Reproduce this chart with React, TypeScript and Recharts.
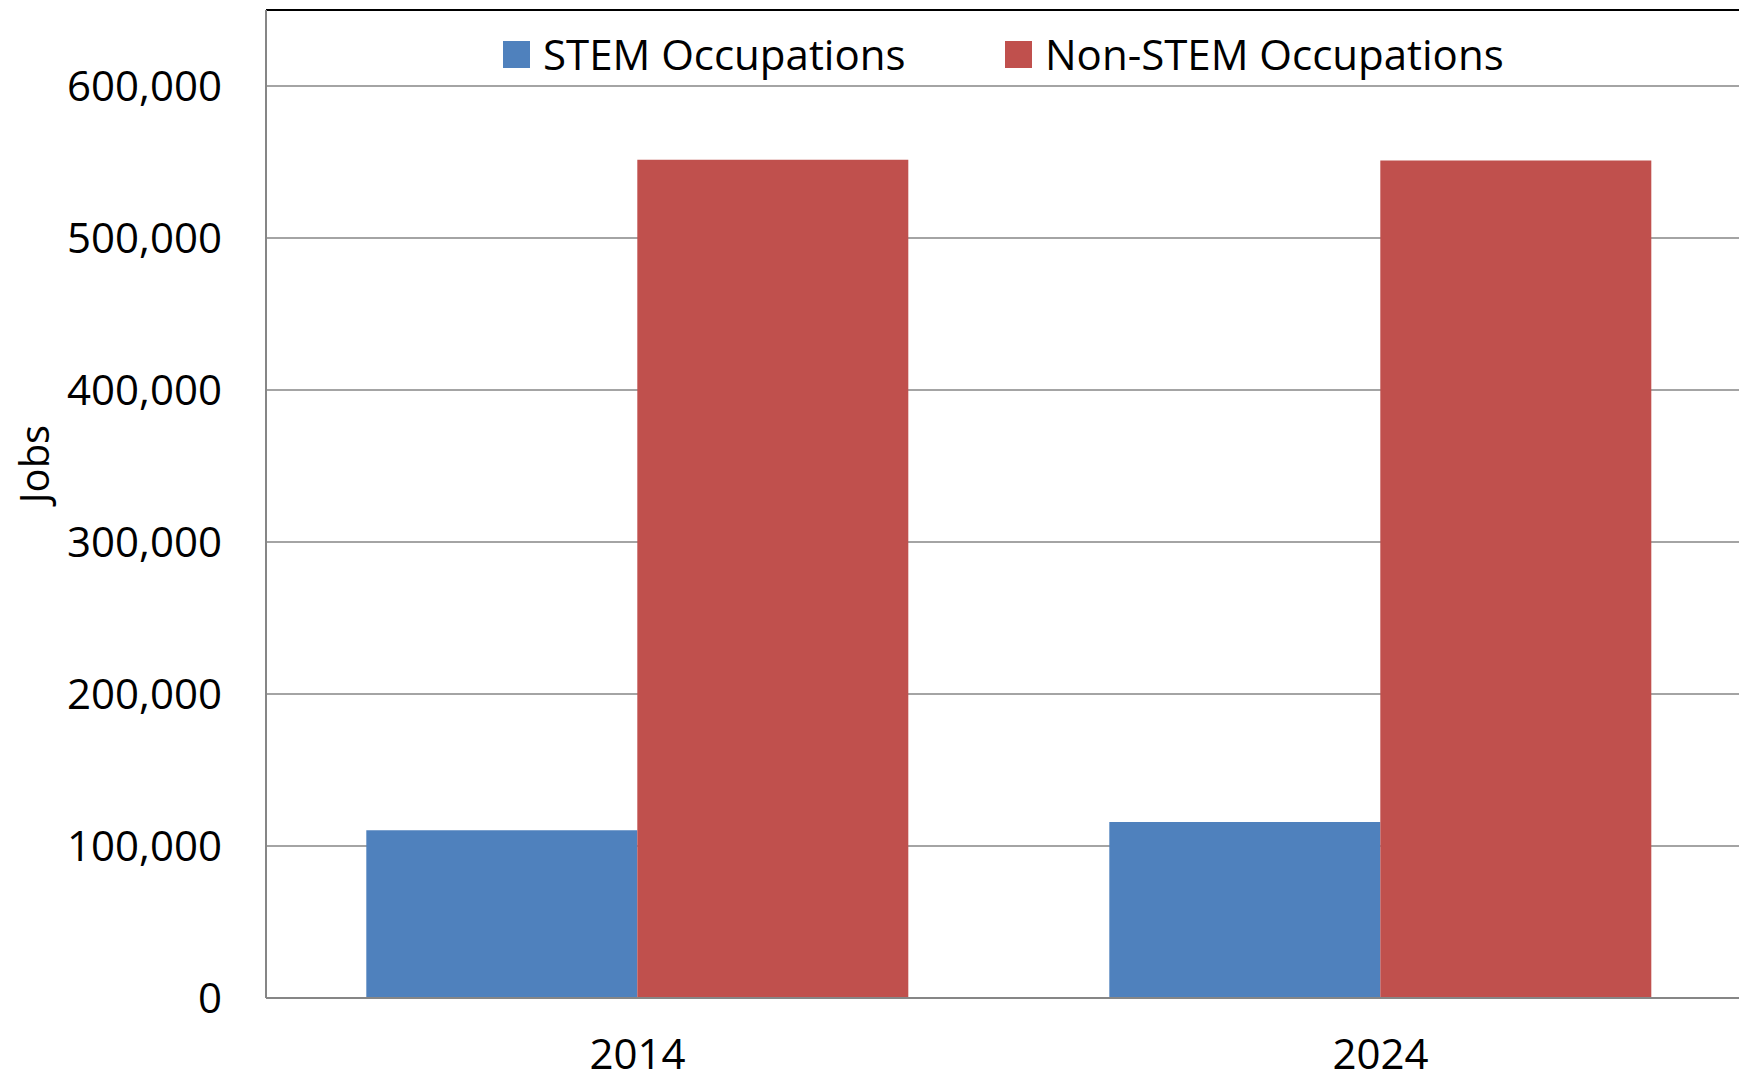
import {
  BarChart,
  Bar,
  XAxis,
  YAxis,
  CartesianGrid,
  Legend,
  ReferenceLine,
} from "recharts";

const YEARS = ["2014", "2024"];
const STEM_JOBS = [110300, 115800];
const NON_STEM_JOBS = [551500, 551000];
const Y_TICKS = [0, 100000, 200000, 300000, 400000, 500000, 600000];

const STEM_COLOR = "#4F81BD";
const NON_STEM_COLOR = "#C0504D";
const GRID_COLOR = "#868686";
const FONT = "'Open Sans', sans-serif";

const data = YEARS.map((year, i) => ({
  year,
  stem: STEM_JOBS[i],
  nonStem: NON_STEM_JOBS[i],
}));

function formatTick(v: number): string {
  return v.toLocaleString("en-US");
}

function LegendContent() {
  const items = [
    { name: "STEM Occupations", color: STEM_COLOR, width: 502 },
    { name: "Non-STEM Occupations", color: NON_STEM_COLOR, width: 520 },
  ];
  return (
    <div style={{ display: "flex", fontFamily: FONT, fontSize: 42, color: "#000" }}>
      {items.map((it) => (
        <div
          key={it.name}
          style={{ display: "flex", alignItems: "center", width: it.width }}
        >
          <span
            style={{
              display: "inline-block",
              width: 27,
              height: 27,
              background: it.color,
              marginRight: 13,
            }}
          />
          <span style={{ lineHeight: "48px", whiteSpace: "nowrap" }}>{it.name}</span>
        </div>
      ))}
    </div>
  );
}

function JobsLabel(props: any) {
  const vb = props.viewBox || {};
  const cx = 33;
  const cy = (vb.y ?? 10) + (vb.height ?? 988) / 2 - 40;
  return (
    <text
      x={cx}
      y={cy}
      transform={`rotate(-90, ${cx}, ${cy})`}
      textAnchor="middle"
      dominantBaseline="central"
      fontFamily={FONT}
      fontSize={40}
      fill="#000"
    >
      Jobs
    </text>
  );
}

export default function App() {
  return (
    <div
      style={{
        position: "absolute",
        left: 0,
        top: 0,
        width: 1739,
        height: 1079,
        overflow: "hidden",
        background: "#fff",
      }}
    >
      <BarChart
        width={1752}
        height={1079}
        data={data}
        margin={{ top: 10, right: 0, bottom: 0, left: 0 }}
        barCategoryGap="13.5%"
        barGap={0}
      >
        <CartesianGrid
          vertical={false}
          stroke={GRID_COLOR}
          strokeWidth={1.5}
        />
        <XAxis
          dataKey="year"
          height={81}
          tickLine={false}
          tickSize={0}
          tickMargin={41}
          axisLine={{ stroke: GRID_COLOR, strokeWidth: 2 }}
          tick={{ fontSize: 42, fontFamily: FONT, fill: "#000" }}
        />
        <YAxis
          width={266}
          domain={[0, 650000]}
          ticks={Y_TICKS}
          tickFormatter={formatTick}
          tickLine={false}
          tickSize={0}
          tickMargin={44}
          axisLine={{ stroke: GRID_COLOR, strokeWidth: 2 }}
          tick={{ fontSize: 42, fontFamily: FONT, fill: "#000" }}
          label={{ content: <JobsLabel /> }}
        />
        <ReferenceLine y={650000} stroke="#000" strokeWidth={2} />
        <Legend
          layout="vertical"
          align="center"
          verticalAlign="middle"
          wrapperStyle={{ top: 30, left: 503, width: 1100, height: 48 }}
          content={<LegendContent />}
        />
        <Bar
          dataKey="stem"
          name="STEM Occupations"
          fill={STEM_COLOR}
          isAnimationActive={false}
        />
        <Bar
          dataKey="nonStem"
          name="Non-STEM Occupations"
          fill={NON_STEM_COLOR}
          isAnimationActive={false}
        />
      </BarChart>
    </div>
  );
}
